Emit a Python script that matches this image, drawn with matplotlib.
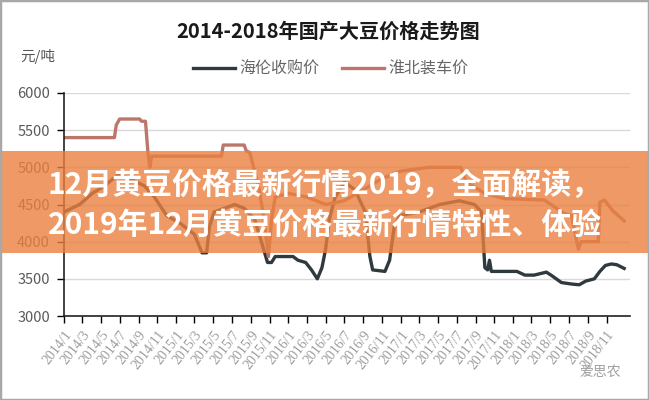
import matplotlib
matplotlib.use("Agg")
import matplotlib.pyplot as plt
from matplotlib.patches import Rectangle
import pandas as pd

plt.rcParams['font.family'] = ['Noto Sans CJK SC', 'DejaVu Sans']

# 海伦收购价 (元/吨)
hailun_dates = [
    "2014-01-01", "2014-02-21", "2014-04-03", "2014-05-13", "2014-06-25",
    "2014-08-02", "2014-09-20", "2014-10-22", "2014-12-01", "2015-01-13",
    "2015-03-01", "2015-03-26", "2015-04-10", "2015-04-19", "2015-05-04",
    "2015-06-07", "2015-07-10", "2015-08-10", "2015-09-13", "2015-10-05",
    "2015-10-25", "2015-11-07", "2015-11-19", "2016-01-16", "2016-02-01",
    "2016-02-26", "2016-03-16", "2016-04-04", "2016-04-19", "2016-05-01",
    "2016-05-13", "2016-06-01", "2016-07-01", "2016-08-04", "2016-09-07",
    "2016-09-22", "2016-10-01", "2016-11-10", "2016-11-25", "2016-12-10",
    "2016-12-28", "2017-03-01", "2017-05-07", "2017-07-10", "2017-08-28",
    "2017-09-20", "2017-10-01", "2017-10-10", "2017-10-16", "2017-10-22",
    "2018-01-13", "2018-02-08", "2018-03-10", "2018-04-19", "2018-05-04",
    "2018-06-07", "2018-07-10", "2018-08-04", "2018-08-25", "2018-09-22",
    "2018-10-10", "2018-10-28", "2018-11-16", "2018-12-04", "2018-12-28",
]
hailun_prices = [
    4400, 4500, 4650, 4750, 4900,
    4850, 4750, 4600, 4350, 4250,
    4100, 3850, 3850, 4200, 4400,
    4450, 4500, 4450, 4300, 4000,
    3720, 3720, 3800, 3800, 3750,
    3720, 3620, 3500, 3650, 3900,
    4300, 4600, 4800, 4700, 4400,
    3800, 3620, 3600, 3750, 4200,
    4350, 4400, 4500, 4550, 4500,
    4400, 3650, 3620, 3750, 3600,
    3600, 3550, 3550, 3590, 3550,
    3450, 3430, 3420, 3470, 3500,
    3600, 3680, 3700, 3690, 3640,
]

# 淮北装车价 (元/吨)
huaibei_dates = [
    "2014-01-01", "2014-06-14", "2014-06-20", "2014-07-01", "2014-09-04",
    "2014-09-10", "2014-09-23", "2014-10-01", "2014-10-07", "2014-10-13",
    "2015-05-28", "2015-06-03", "2015-08-10", "2015-08-17", "2015-08-28",
    "2015-09-13", "2015-09-28", "2015-10-12", "2015-10-22", "2015-10-28",
    "2015-11-07", "2015-11-19", "2016-01-01", "2016-03-01", "2016-05-01",
    "2016-07-01", "2016-09-01", "2016-11-01", "2017-01-01", "2017-04-01",
    "2017-07-15", "2017-08-01", "2017-10-01", "2017-12-01", "2018-04-12",
    "2018-06-16", "2018-07-10", "2018-08-01", "2018-08-10", "2018-10-05",
    "2018-10-10", "2018-10-25", "2018-11-20", "2018-12-28",
]
huaibei_prices = [
    5400, 5400, 5570, 5650, 5650,
    5620, 5620, 5200, 5000, 5150,
    5150, 5300, 5300, 5220, 5200,
    4950, 4700, 4350, 4000, 3800,
    4300, 4600, 4650, 4600, 4500,
    4550, 4700, 4850, 4950, 5000,
    5000, 4800, 4650, 4580, 4560,
    4380, 4350, 3900, 4000, 4000,
    4530, 4560, 4420, 4280,
]

y_ticks = [3000, 3500, 4000, 4500, 5000, 5500, 6000]
x_ticks = pd.date_range("2014-01-01", "2018-11-01", freq="2MS")
x_labels = [f"{d.year}/{d.month}" for d in x_ticks]

title = "2014-2018年国产大豆价格走势图"
banner_lines = ["12月黄豆价格最新行情2019，全面解读，",
                "2019年12月黄豆价格最新行情特性、体验"]

dark = '#2e3a3e'
red = '#bd776a'

fig = plt.figure(figsize=(6.49, 4.0), dpi=100)
ax = fig.add_axes([64 / 649, 84 / 400, 566 / 649, 223 / 400])

ax.plot(pd.to_datetime(hailun_dates), hailun_prices, color=dark, lw=2.4,
        label='海伦收购价', solid_joinstyle='round')
ax.plot(pd.to_datetime(huaibei_dates), huaibei_prices, color=red, lw=2.4,
        label='淮北装车价', solid_joinstyle='round')

ax.set_ylim(3000, 6000)
ax.set_xlim(pd.Timestamp("2014-01-01"), pd.Timestamp("2019-01-16"))
ax.set_yticks(y_ticks)
ax.set_yticklabels([str(v) for v in y_ticks])
ax.set_xticks(x_ticks)
ax.set_xticklabels(x_labels, rotation=52, ha='right', rotation_mode='anchor',
                   family='Liberation Serif', fontsize=10, color='#9c9c9c')
ax.tick_params(axis='y', length=5, width=1, pad=5, labelsize=10.5,
               labelcolor='#5a5a5a')
ax.tick_params(axis='x', length=5, width=1, pad=4)

ax.grid(axis='y', color='#d9d9d9', lw=1)
ax.set_axisbelow(True)
for s in ['top', 'right']:
    ax.spines[s].set_visible(False)
for s in ['left', 'bottom']:
    ax.spines[s].set_color('#222222')
    ax.spines[s].set_linewidth(1.2)

ax.legend(loc='center', bbox_to_anchor=(331 / 649, 1 - 69 / 400),
          bbox_transform=fig.transFigure, ncol=2, frameon=False,
          fontsize=11.5, handlelength=2.6, columnspacing=1.4,
          handletextpad=0.3, labelcolor='#666666')

fig.text(0.505, 1 - 31 / 400, title, ha='center', va='center',
         fontsize=14.5, weight='bold', color='#1a1a1a')
fig.text(20 / 649, 1 - 57 / 400, '元/吨', ha='left', va='center',
         fontsize=10.5, color='#555555')
fig.text(600 / 649, 1 - 372 / 400, '爱思农', ha='center', va='center',
         fontsize=10, color='#a0a0a0')

# orange banner over the chart
fig.add_artist(Rectangle((0, 1 - 253 / 400), 1, 102 / 400,
                         transform=fig.transFigure, facecolor='#ea8040',
                         alpha=0.8, edgecolor='none', zorder=5))
fig.text(0.5, 1 - 185 / 400, banner_lines[0], ha='center', va='center',
         fontsize=21.5, weight='bold', color='white', zorder=6)
fig.text(0.5, 1 - 225 / 400, banner_lines[1], ha='center', va='center',
         fontsize=21.5, weight='bold', color='white', zorder=6)

fig.add_artist(Rectangle((0, 0), 1, 1, transform=fig.transFigure,
                         fill=False, edgecolor='#a8a8a8', lw=2.5, zorder=7))

fig.savefig('out.png', dpi=100)
